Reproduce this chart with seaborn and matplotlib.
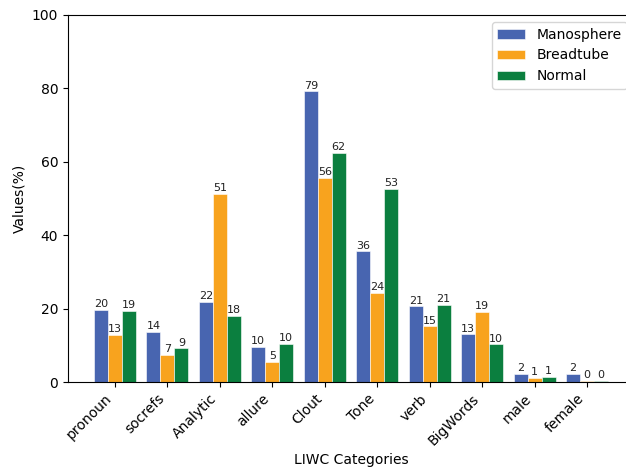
import matplotlib
matplotlib.use("Agg")
import matplotlib.pyplot as plt
import seaborn as sns
import pandas as pd

categories = ["pronoun", "socrefs", "Analytic", "allure", "Clout", "Tone", "verb", "BigWords", "male", "female"]
manosphere = [19.6, 13.6, 21.8, 9.6, 79.2, 35.6, 20.6, 13.0, 2.2, 2.2]
breadtube = [12.8, 7.4, 51.2, 5.4, 55.6, 24.3, 15.2, 19.2, 1.2, 0.4]
normal = [19.4, 9.2, 18.0, 10.4, 62.5, 52.6, 21.0, 10.3, 1.4, 0.4]
series_names = ["Manosphere", "Breadtube", "Normal"]
colors = ["#4865B0", "#F8A31E", "#0B7F3F"]

rows = []
for name, vals in zip(series_names, [manosphere, breadtube, normal]):
    for c, v in zip(categories, vals):
        rows.append({"category": c, "value": v, "series": name})
df = pd.DataFrame(rows)

fig = plt.figure(figsize=(6.26, 4.72), dpi=100)
ax = fig.add_axes([68 / 626, 90 / 472, 566 / 626, 367 / 472])

sns.barplot(data=df, x="category", y="value", hue="series", order=categories,
            hue_order=series_names, palette=colors, saturation=1, ax=ax,
            errorbar=None, width=0.8, edgecolor="white", linewidth=0.4)

for cont in ax.containers:
    ax.bar_label(cont, fmt="%.0f", fontsize=8, padding=0.5, color="#222222")

ax.set_xlim(-0.895, 9.895)
ax.set_ylim(0, 100)
ax.set_yticks([0, 20, 40, 60, 80, 100])
ax.set_xlabel("LIWC Categories", fontsize=10)
ax.set_ylabel("Values(%)", fontsize=10)
plt.setp(ax.get_xticklabels(), rotation=45, ha="right", fontsize=10)
ax.tick_params(axis="y", labelsize=10)

handles, labels = ax.get_legend_handles_labels()
ax.legend(handles, labels, loc="upper right", fontsize=10, frameon=True)

fig.savefig("out.png", dpi=100)
